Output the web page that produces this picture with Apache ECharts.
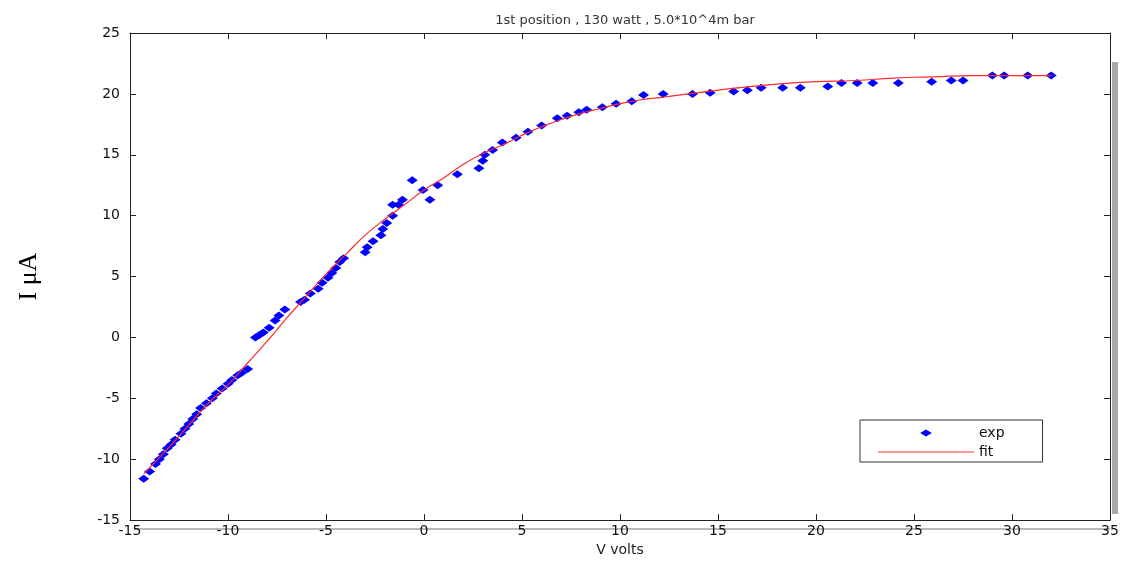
<!DOCTYPE html>
<html>
<head>
<meta charset="utf-8">
<script src="https://cdn.jsdelivr.net/npm/echarts@6/dist/echarts.min.js"></script>
<style>
  html, body { margin: 0; padding: 0; background: #fff; }
  #main { width: 1125px; height: 562px; }
</style>
</head>
<body>
<div id="main"></div>
<script>
// 实验点 (V, I)
const expV = [-14.3, -14.0, -13.7, -13.5, -13.3, -13.1, -12.9, -12.7, -12.4, -12.2, -12.0, -11.8, -11.6, -11.4, -11.1, -10.8, -10.6, -10.3, -10.0, -9.8, -9.5, -9.3, -9.0,
  -8.6, -8.4, -8.2, -7.9, -7.6, -7.4, -7.1, -6.3, -6.1, -5.8, -5.4, -5.2, -4.9, -4.7, -4.5, -4.3, -4.1,
  -3.0, -2.9, -2.6, -2.2, -2.1, -1.9, -1.6, -1.6, -1.3, -1.1, -0.6, -0.05, 0.3, 0.7,
  1.7, 2.8, 3.0, 3.1, 3.5, 4.0, 4.7, 5.3, 6.0, 6.8, 7.3, 7.9, 8.3, 9.1, 9.8, 10.6, 11.2, 12.2,
  13.7, 14.6, 15.8, 16.5, 17.2, 18.3, 19.2, 20.6, 21.3, 22.1, 22.9, 24.2, 25.9, 26.9, 27.5, 29.0, 29.6, 30.8, 32.0];
const expI = [-11.6, -11.0, -10.4, -10.0, -9.6, -9.1, -8.8, -8.4, -7.9, -7.5, -7.1, -6.7, -6.3, -5.8, -5.4, -5.0, -4.6, -4.2, -3.8, -3.5, -3.1, -2.9, -2.6,
  0.0, 0.2, 0.4, 0.8, 1.4, 1.8, 2.3, 2.9, 3.1, 3.6, 4.0, 4.5, 4.9, 5.3, 5.7, 6.2, 6.5,
  7.0, 7.4, 7.9, 8.4, 8.9, 9.4, 10.0, 10.9, 10.9, 11.3, 12.9, 12.1, 11.3, 12.5,
  13.4, 13.9, 14.5, 15.0, 15.4, 16.0, 16.4, 16.9, 17.4, 18.0, 18.2, 18.5, 18.7, 18.9, 19.2, 19.4, 19.9, 20.0,
  20.0, 20.1, 20.2, 20.3, 20.5, 20.5, 20.5, 20.6, 20.9, 20.9, 20.9, 20.9, 21.0, 21.1, 21.1, 21.5, 21.5, 21.5, 21.5];

// 拟合曲线
const fitV = [-14.3, -13, -12, -11, -10, -9, -8, -7, -6, -5, -4, -3, -2, -1, 0, 1, 2, 3, 4, 5, 6, 7, 8, 9, 10, 11, 12, 14, 16, 18, 20, 22, 24, 26, 28, 30, 32];
const fitI = [-11.2, -9.0, -7.2, -5.4, -3.9, -2.1, -0.3, 1.6, 3.4, 5.2, 6.8, 8.4, 9.7, 10.9, 12.1, 13.1, 14.2, 15.1, 15.8, 16.6, 17.3, 17.9, 18.4, 18.8, 19.2, 19.5, 19.7, 20.1, 20.5, 20.8, 21.0, 21.1, 21.3, 21.4, 21.5, 21.5, 21.5];

const xTicks = [-15, -10, -5, 0, 5, 10, 15, 20, 25, 30, 35];

const zip = (a, b) => a.map((v, i) => [v, b[i]]);

const chart = echarts.init(document.getElementById("main"));
const axisFont = { color: "#111", fontSize: 14, fontFamily: "DejaVu Sans" };
const frameLine = { show: true, onZero: false, lineStyle: { color: "#222", width: 1 } };
const tick = { show: true, inside: true, length: 6, lineStyle: { color: "#222" } };

chart.setOption({
  backgroundColor: "#fff",
  animation: false,
  title: {
    text: "1st position , 130 watt , 5.0*10^4m bar",
    left: 620,
    textAlign: "center",
    top: 9,
    textStyle: { fontSize: 13, fontWeight: "normal", color: "#333", fontFamily: "DejaVu Sans" },
  },
  legend: {
    orient: "vertical",
    left: 860,
    top: 420,
    padding: [6, 38, 3, 18],
    itemGap: 5,
    itemWidth: 96,
    itemHeight: 7,
    symbolKeepAspect: true,
    borderColor: "#333",
    borderWidth: 1,
    backgroundColor: "#fff",
    textStyle: { fontSize: 14, color: "#111", fontFamily: "DejaVu Sans" },
    data: [
      { name: "exp", icon: "path://M0,3L5,0L10,3L5,6Z" },
      { name: "fit", icon: "path://M0,0L100,0L100,1.2L0,1.2Z" },
    ],
  },
  grid: { left: 130, right: 15, top: 33, bottom: 35 },
  xAxis: [
    {
      type: "value",
      min: -15,
      max: 35,
      interval: 5,
      name: "V volts",
      nameLocation: "middle",
      nameGap: 17,
      nameTextStyle: { fontSize: 14, color: "#222", fontFamily: "DejaVu Sans" },
      axisLine: frameLine,
      axisTick: tick,
      axisLabel: Object.assign({ margin: 4, customValues: xTicks }, axisFont),
      splitLine: { show: false },
    },
    {
      type: "value",
      position: "top",
      min: -15,
      max: 35,
      interval: 5,
      axisLine: frameLine,
      axisTick: tick,
      axisLabel: { show: false },
      splitLine: { show: false },
    },
  ],
  yAxis: [
    {
      type: "value",
      min: -15,
      max: 25,
      interval: 5,
      name: "I μA",
      nameLocation: "middle",
      nameGap: 88,
      nameTextStyle: { fontSize: 26, color: "#000", fontFamily: "Liberation Serif" },
      axisLine: frameLine,
      axisTick: tick,
      axisLabel: Object.assign({ margin: 10 }, axisFont),
      splitLine: { show: false },
    },
    {
      type: "value",
      position: "right",
      min: -15,
      max: 25,
      interval: 5,
      axisLine: frameLine,
      axisTick: tick,
      axisLabel: { show: false },
      splitLine: { show: false },
    },
  ],
  graphic: [
    // 右侧与底部的阴影
    { type: "rect", shape: { x: 1112, y: 62, width: 6, height: 452 }, style: { fill: "#a8a8a8" }, z: -1 },
    { type: "rect", shape: { x: 134, y: 528, width: 976, height: 2 }, style: { fill: "#b8b8b8" }, z: -1 },
  ],
  series: [
    {
      name: "fit",
      type: "line",
      data: zip(fitV, fitI),
      smooth: true,
      showSymbol: false,
      symbol: "none",
      lineStyle: { color: "#ff2a2a", width: 1.2 },
      itemStyle: { color: "#ff2a2a" },
      z: 3,
    },
    {
      name: "exp",
      type: "scatter",
      data: zip(expV, expI),
      symbol: "diamond",
      symbolSize: [11, 8],
      itemStyle: { color: "#0000ff", opacity: 1 },
      z: 2,
    },
  ],
});
</script>
</body>
</html>
